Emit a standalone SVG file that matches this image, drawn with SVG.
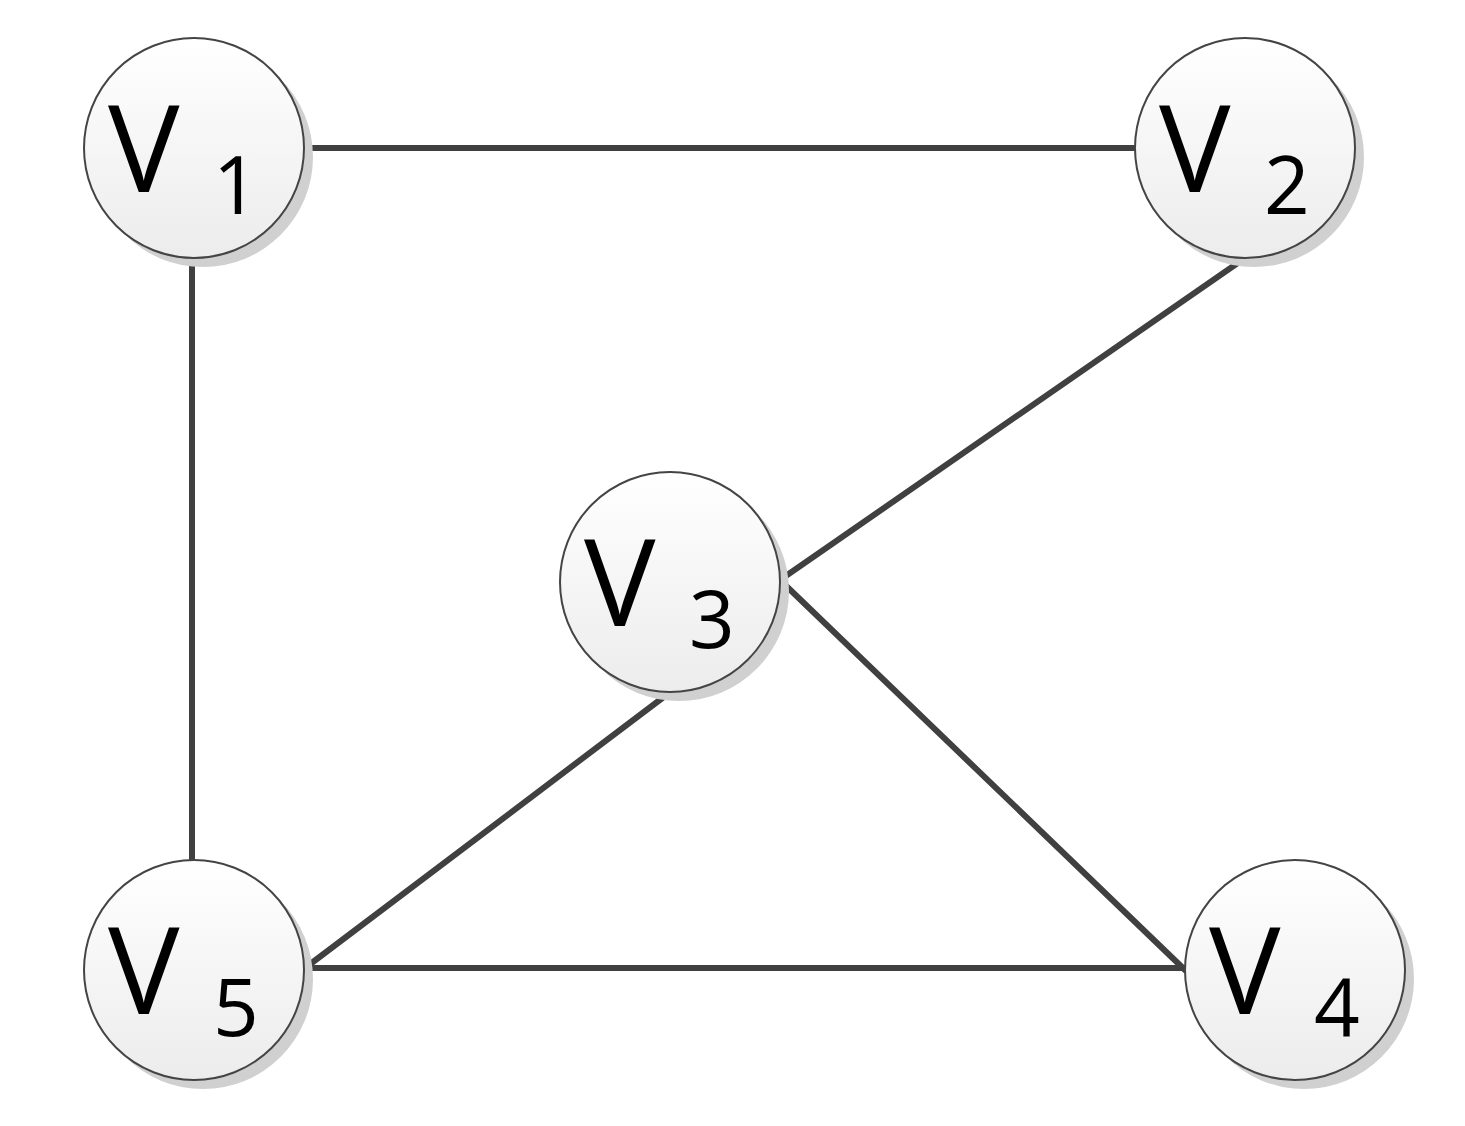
<svg xmlns="http://www.w3.org/2000/svg" width="1465" height="1126" viewBox="0 0 1465 1126">
<defs>
<linearGradient id="g" x1="0" y1="0" x2="0" y2="1"><stop offset="0" stop-color="#ffffff"/><stop offset="1" stop-color="#ececec"/></linearGradient>
<style>
.sh{fill:#d0d0d0}
.c{fill:url(#g);stroke:#444;stroke-width:2}
.v{font-family:"Open Sans","Liberation Sans",sans-serif;font-size:120px;fill:#000}
.s{font-family:"Open Sans","Liberation Sans",sans-serif;font-size:80px;fill:#000}
.e{stroke:#404040;stroke-width:6;stroke-linecap:round;fill:none}
</style>
</defs>
<rect width="1465" height="1126" fill="#fff"/>
<g id="connectors">
<line class="e" x1="305" y1="148" x2="1138" y2="148"/>
<line class="e" x1="192" y1="258" x2="192" y2="863"/>
<line class="e" x1="1245" y1="258" x2="780" y2="580"/>
<line class="e" x1="780" y1="580" x2="1185" y2="970"/>
<line class="e" x1="673" y1="690" x2="305" y2="968"/>
<line class="e" x1="305" y1="968" x2="1185" y2="968"/>
</g>
<g id="V1"><circle class="sh" cx="203" cy="157" r="110"/><circle class="c" cx="194" cy="148" r="110"/><text class="v" x="108" y="192">V</text><text class="s" x="213" y="214">1</text></g>
<g id="V2"><circle class="sh" cx="1254" cy="157" r="110"/><circle class="c" cx="1245" cy="148" r="110"/><text class="v" x="1159" y="192">V</text><text class="s" x="1264" y="214">2</text></g>
<g id="V3"><circle class="sh" cx="679" cy="591" r="110"/><circle class="c" cx="670" cy="582" r="110"/><text class="v" x="584" y="626">V</text><text class="s" x="689" y="648">3</text></g>
<g id="V4"><circle class="sh" cx="1304" cy="979" r="110"/><circle class="c" cx="1295" cy="970" r="110"/><text class="v" x="1209" y="1014">V</text><text class="s" x="1314" y="1036">4</text></g>
<g id="V5"><circle class="sh" cx="203" cy="979" r="110"/><circle class="c" cx="194" cy="970" r="110"/><text class="v" x="108" y="1014">V</text><text class="s" x="213" y="1036">5</text></g>
</svg>
